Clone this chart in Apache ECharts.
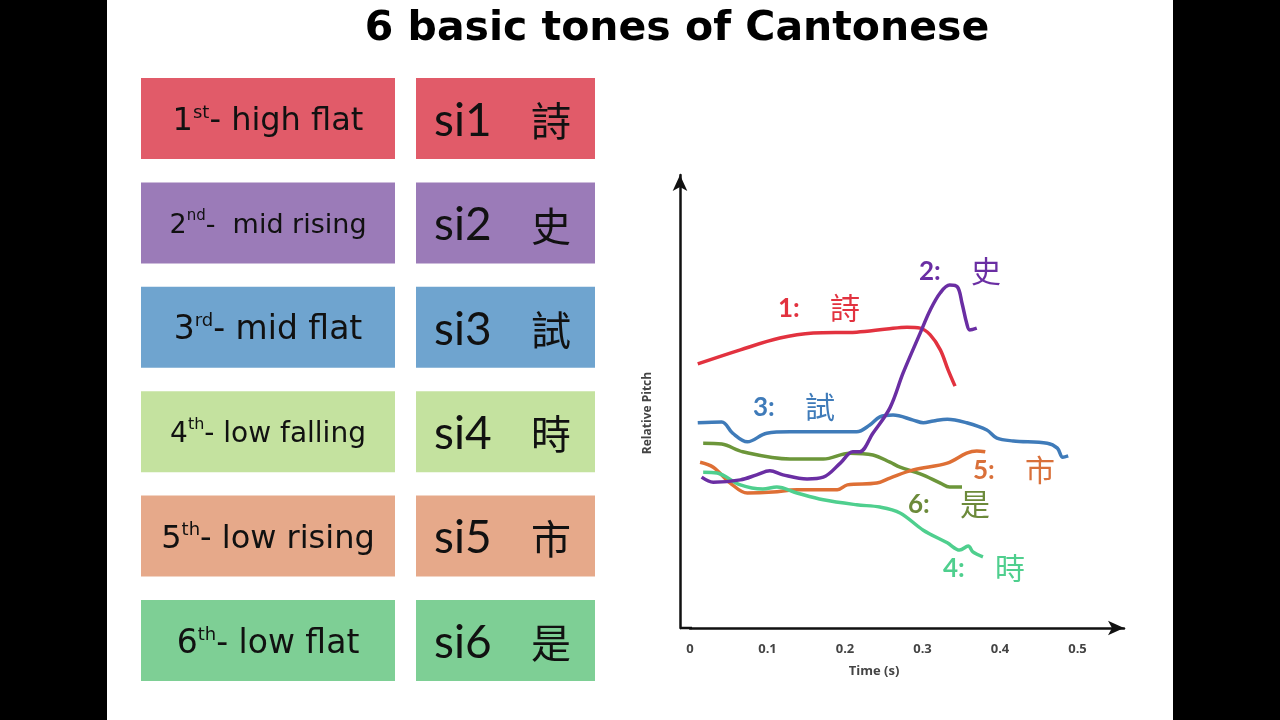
<!DOCTYPE html>
<html><head><meta charset="utf-8">
<script src="https://cdn.jsdelivr.net/npm/echarts@6/dist/echarts.min.js"></script>
<style>html,body{margin:0;padding:0;background:#000}#c{width:1280px;height:720px}</style>
</head><body><div id="c"></div>
<script>
// ---- table content ----
const ordinals = ['1','2','3','4','5','6'];
const suffixes = ['st','nd','rd','th','th','th'];
const toneNames = ['- high flat','-  mid rising','- mid flat','- low falling','- low rising','- low flat'];
const syllables = ['si1','si2','si3','si4','si5','si6'];
const chars = ['詩','史','試','時','市','是'];
const boxColors = ['#e15b69','#9b7bb8','#6fa4cf','#c4e29f','#e6a98a','#7ecf95'];
const rowFontSizes = [32,27,33,28,32,33];

// ---- pitch contours: [time (s), relative pitch] ----
const tone1 = [[0.010,58.3],[0.065,61.4],[0.116,64.0],[0.159,65.1],[0.215,65.3],[0.254,66.0],[0.280,66.4],[0.297,66.2],[0.310,64.7],[0.323,61.4],[0.333,57.0],[0.342,53.4]];
const tone2 = [[0.015,33.3],[0.030,32.2],[0.065,32.7],[0.086,33.8],[0.103,34.7],[0.120,33.8],[0.151,32.9],[0.172,33.3],[0.194,36.4],[0.210,38.9],[0.219,38.9],[0.236,43.0],[0.258,48.6],[0.275,56.3],[0.297,65.1],[0.310,70.2],[0.323,74.0],[0.335,75.7],[0.345,75.3],[0.351,71.7],[0.357,67.3],[0.361,65.8],[0.370,66.2]];
const tone3 = [[0.010,45.3],[0.041,45.5],[0.055,43.0],[0.074,41.1],[0.099,43.0],[0.129,43.3],[0.215,43.3],[0.232,44.8],[0.245,46.6],[0.262,47.0],[0.288,45.9],[0.301,45.3],[0.314,45.7],[0.332,46.1],[0.357,45.3],[0.383,43.7],[0.396,41.9],[0.417,41.3],[0.461,40.8],[0.474,39.7],[0.481,37.7],[0.488,38.0]];
const tone4 = [[0.017,34.4],[0.035,34.2],[0.065,31.6],[0.094,30.7],[0.112,31.1],[0.138,29.8],[0.172,28.3],[0.215,27.2],[0.245,26.7],[0.271,25.4],[0.301,21.6],[0.332,18.8],[0.348,17.2],[0.359,18.1],[0.365,16.8],[0.378,15.7]];
const tone5 = [[0.013,36.6],[0.030,35.5],[0.052,32.0],[0.074,29.8],[0.107,30.0],[0.138,30.5],[0.190,30.5],[0.203,31.6],[0.241,32.0],[0.258,33.1],[0.288,34.9],[0.332,36.4],[0.357,38.6],[0.370,39.1],[0.381,38.9]];
const tone6 = [[0.017,40.8],[0.041,40.6],[0.068,38.9],[0.129,37.3],[0.172,37.3],[0.206,38.6],[0.236,38.2],[0.258,36.6],[0.271,35.5],[0.297,34.0],[0.323,32.0],[0.335,31.1],[0.351,31.1]];
const lineColors = ['#e2323f','#6a2ea3','#3f7bb9','#4fcf8e','#de6f35','#6c963a'];
const labelColors = ['#e2323f','#6a2ea3','#3f7bb9','#4fcf8e','#d9703a','#6c8a3a'];
const xTicks = [0,0.1,0.2,0.3,0.4,0.5];

const chart = echarts.init(document.getElementById('c'));

const FONT = '"DejaVu Sans", sans-serif';
const LFONT = 'Lato, "Noto Sans", sans-serif';
const CJK = '"Noto Sans CJK TC", "Noto Sans CJK SC", sans-serif';

const graphics = [
  {type:'rect', shape:{x:107,y:0,width:1066,height:720}, style:{fill:'#ffffff'}, z:-10},
  {type:'text', x:677, y:29, style:{text:'6 basic tones of Cantonese', font:'bold 41px '+FONT, fill:'#000', align:'center', verticalAlign:'middle'}},
  {type:'text', x:874, y:671, style:{text:'Time (s)', font:'bold 13px "Open Sans", sans-serif', fill:'#444', align:'center', verticalAlign:'middle'}},
  {type:'text', x:648, y:413, rotation:Math.PI/2, style:{text:'Relative Pitch', font:'bold 12px "Open Sans", sans-serif', fill:'#444', align:'center', verticalAlign:'middle'}},
  {type:'line', shape:{x1:680,y1:628,x2:692,y2:628}, style:{stroke:'#111', lineWidth:2.5}}
];
for (let i = 0; i < 6; i++) {
  const top = 78 + i * 104.4;
  const fs = rowFontSizes[i];
  const ss = Math.round(fs * 0.56);
  graphics.push({type:'rect', shape:{x:141,y:top,width:254,height:81}, style:{fill:boxColors[i]}});
  graphics.push({type:'rect', shape:{x:416,y:top,width:179,height:81}, style:{fill:boxColors[i]}});
  graphics.push({type:'text', x:268, y:top+44, style:{
    text:'{a|'+ordinals[i]+'}{s|'+suffixes[i]+'}{a|'+toneNames[i]+'}',
    align:'center', verticalAlign:'middle',
    rich:{a:{font:fs+'px '+FONT, fill:'#111', lineHeight:36}, s:{font:ss+'px '+FONT, fill:'#111', verticalAlign:'top', lineHeight:36, padding:[0,0,Math.round(fs*0.5),0]}}
  }});
  graphics.push({type:'text', x:434, y:top+43, style:{text:syllables[i], font:'46px '+LFONT, fill:'#111', verticalAlign:'middle'}});
  graphics.push({type:'text', x:551, y:top+43, style:{text:chars[i], font:'40px '+CJK, fill:'#111', align:'center', verticalAlign:'middle'}});
}
// curve labels: [number x, y center]
const labelPos = [[778,309],[919,272],[753,408],[943,569],[973,471],[908,505]];
for (let i = 0; i < 6; i++) {
  const [lx, ly] = labelPos[i];
  graphics.push({type:'text', x:lx, y:ly, style:{text:(i+1)+':', font:'bold 26px '+LFONT, fill:labelColors[i], verticalAlign:'middle'}});
  graphics.push({type:'text', x:lx+52, y:ly-1, style:{text:chars[i], font:'30px '+CJK, fill:labelColors[i], verticalAlign:'middle'}});
}

const tones = [tone1, tone3, tone6, tone5, tone4, tone2];
const toneIdx = [0,2,5,4,3,1];
chart.setOption({
  backgroundColor:'#000',
  animation:false,
  grid:{left:690, right:156, top:175, bottom:92},
  xAxis:{type:'value', min:0, max:0.56,
    axisLine:{onZero:false, lineStyle:{color:'#111', width:2.5}, symbol:['none','arrow'], symbolSize:[11,16]},
    axisTick:{show:false}, splitLine:{show:false},
    axisLabel:{color:'#444', fontSize:13, fontWeight:'bold', fontFamily:'"Open Sans", sans-serif', margin:15,
      customValues: xTicks, formatter:v=>String(v)}
  },
  yAxis:{type:'value', min:0, max:100, offset:10,
    axisLine:{show:true, onZero:false, lineStyle:{color:'#111', width:2.5}, symbol:['none','arrow'], symbolSize:[11,16]},
    axisTick:{show:false}, axisLabel:{show:false}, splitLine:{show:false}
  },
  series: tones.map((d, k) => ({
    type:'line', data:d, showSymbol:false, symbol:'none', smooth:0.35,
    lineStyle:{color:lineColors[toneIdx[k]], width:3.5}
  })),
  graphic: graphics
});
</script></body></html>
